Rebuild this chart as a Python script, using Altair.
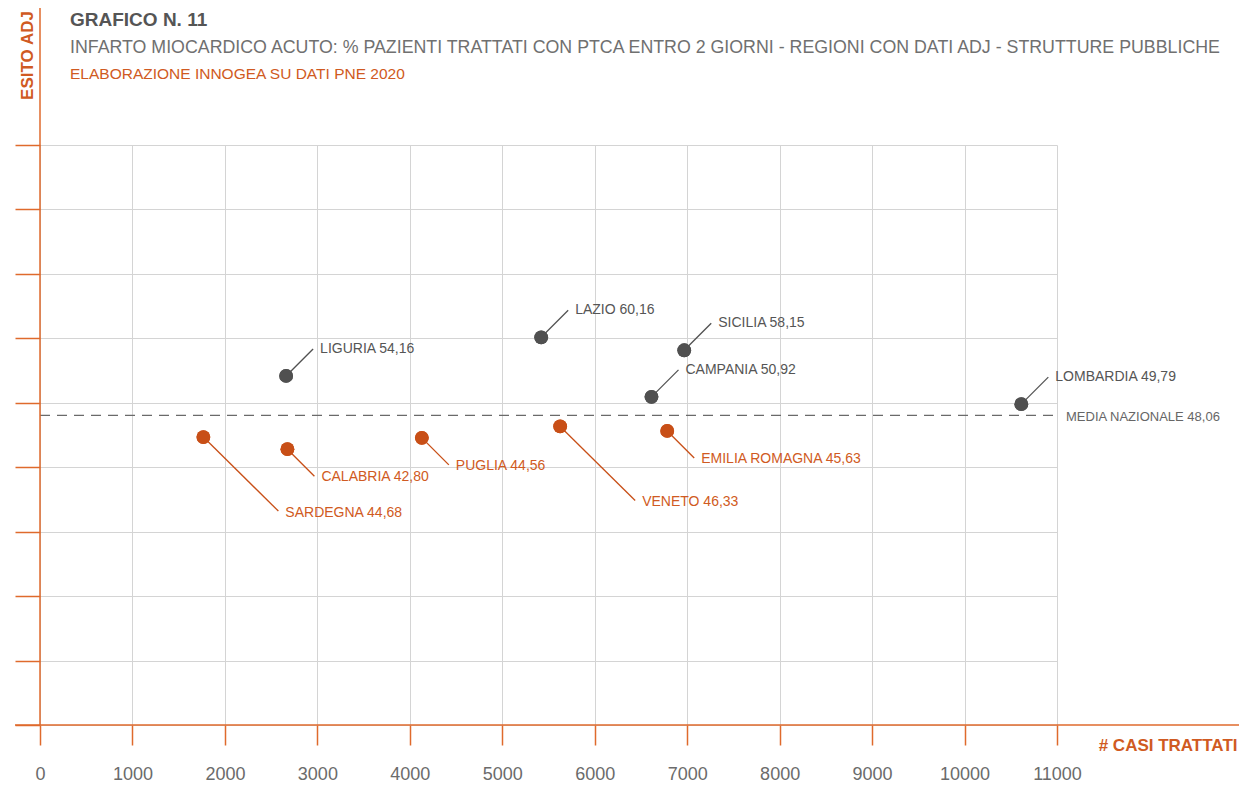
import altair as alt
import pandas as pd

# ---------------- data ----------------
regions = ["SARDEGNA", "CALABRIA", "LIGURIA", "PUGLIA", "LAZIO", "VENETO",
           "CAMPANIA", "EMILIA ROMAGNA", "SICILIA", "LOMBARDIA"]
cases = [1767, 2676, 2662, 4130, 5421, 5626, 6614, 6784, 6968, 10614]
esito = [44.68, 42.80, 54.16, 44.56, 60.16, 46.33, 50.92, 45.63, 58.15, 49.79]
media_nazionale = [48.06]
x_ticks = list(range(0, 12000, 1000))
y_ticks = list(range(0, 100, 10))
long_leader = ["SARDEGNA", "VENETO"]

title_text = ["GRAFICO N. 11"]
subtitle_text = ["INFARTO MIOCARDICO ACUTO: % PAZIENTI TRATTATI CON PTCA ENTRO 2 GIORNI - REGIONI CON DATI ADJ - STRUTTURE PUBBLICHE"]
source_text = ["ELABORAZIONE INNOGEA SU DATI PNE 2020"]

# ---------------- styles ----------------
SANS = "Liberation Sans"
ORANGE_AXIS = "#df6a2c"
ORANGE_PT = "#c84f17"
ORANGE_TXT = "#d05a22"
GRAY_PT = "#505050"
GRAY_TXT = "#555555"
GRID = "#d4d4d4"

def fmt(v):
    return f"{v:.2f}".replace(".", ",")

media = media_nazionale[0]
df = pd.DataFrame({"regione": regions, "casi": cases, "esito": esito})
df["label"] = [f"{r} {fmt(v)}" for r, v in zip(regions, esito)]
df["gruppo"] = ["sopra" if v > media else "sotto" for v in esito]
df["leader"] = ["long" if r in long_leader else "short" for r in regions]

df_media = pd.DataFrame({"esito": media_nazionale,
                         "label": [f"MEDIA NAZIONALE {fmt(media)}"]})

xscale = alt.Scale(domain=[0, 11000], nice=False, zero=False)
yscale = alt.Scale(domain=[0, 90], nice=False, zero=False)

x_axis = alt.Axis(values=x_ticks, grid=True, gridColor=GRID, gridWidth=1,
                  domain=False, ticks=True, tickColor=ORANGE_AXIS, tickSize=20,
                  tickWidth=1.5, labelColor="#6b6b6b", labelFont=SANS,
                  labelFontSize=18, labelPadding=20, labelFlush=False, format="d",
                  title="# CASI TRATTATI", titleFont=SANS, titleFontSize=17,
                  titleFontWeight="bold", titleColor=ORANGE_TXT, titleX=1197,
                  titleY=25, titleAlign="right", titleBaseline="alphabetic")
y_axis = alt.Axis(values=y_ticks, grid=True, gridColor=GRID, gridWidth=1,
                  domain=False, labels=False, ticks=True, tickColor=ORANGE_AXIS,
                  tickSize=25, tickWidth=1.5,
                  title="ESITO ADJ", titleFont=SANS, titleFontSize=17,
                  titleFontWeight="bold", titleColor=ORANGE_TXT, titleAngle=270,
                  titleX=-8, titleY=-90, titleAlign="center",
                  titleBaseline="alphabetic")

X = lambda: alt.X("casi:Q", scale=xscale, axis=x_axis)
Y = lambda: alt.Y("esito:Q", scale=yscale, axis=y_axis)

color = alt.Color("gruppo:N", scale=alt.Scale(domain=["sopra", "sotto"],
                                              range=[GRAY_PT, ORANGE_PT]),
                  legend=None)

base = alt.Chart(df)

# median dashed line
media_line = alt.Chart(df_media).mark_rule(
    color="#6a6a6a", strokeWidth=1.3, strokeDash=[10, 7]
).encode(x=alt.datum(0, scale=xscale, axis=x_axis), x2=alt.datum(11000),
         y=Y())

media_label = alt.Chart(df_media).mark_text(
    align="left", baseline="middle", dx=9, dy=2, font=SANS, fontSize=13,
    color="#666666"
).encode(x=alt.datum(11000, scale=xscale, axis=x_axis), y=Y(), text="label:N")

# leader lines
lead_up = base.transform_filter(alt.datum.gruppo == "sopra").mark_rule(
    color=GRAY_PT, strokeWidth=1.3, x2Offset=27, y2Offset=-27
).encode(x=X(), x2="casi:Q", y=Y(), y2="esito:Q")

lead_down = base.transform_filter(
    (alt.datum.gruppo == "sotto") & (alt.datum.leader == "short")
).mark_rule(color=ORANGE_PT, strokeWidth=1.3, x2Offset=27, y2Offset=27
).encode(x=X(), x2="casi:Q", y=Y(), y2="esito:Q")

lead_long = base.transform_filter(
    (alt.datum.gruppo == "sotto") & (alt.datum.leader == "long")
).mark_rule(color=ORANGE_PT, strokeWidth=1.3, x2Offset=75, y2Offset=74
).encode(x=X(), x2="casi:Q", y=Y(), y2="esito:Q")

# points
points = base.mark_circle(size=190, opacity=1).encode(
    x=X(), y=Y(), color=color
)

# labels
lab_up = base.transform_filter(alt.datum.gruppo == "sopra").mark_text(
    align="left", baseline="middle", dx=34, dy=-27, font=SANS, fontSize=14,
    color=GRAY_TXT
).encode(x=X(), y=Y(), text="label:N")

lab_down = base.transform_filter(
    (alt.datum.gruppo == "sotto") & (alt.datum.leader == "short")
).mark_text(align="left", baseline="middle", dx=34, dy=28, font=SANS,
            fontSize=14, color=ORANGE_TXT
).encode(x=X(), y=Y(), text="label:N")

lab_long = base.transform_filter(
    (alt.datum.gruppo == "sotto") & (alt.datum.leader == "long")
).mark_text(align="left", baseline="middle", dx=82, dy=76, font=SANS,
            fontSize=14, color=ORANGE_TXT
).encode(x=X(), y=Y(), text="label:N")

# axis lines (decorative, extend beyond plot)
one = pd.DataFrame({"k": [0]})
x_line = alt.Chart(one).mark_rule(color=ORANGE_AXIS, strokeWidth=1.5).encode(
    x=alt.value(-25), x2=alt.value(1205), y=alt.value(580))
y_line = alt.Chart(one).mark_rule(color=ORANGE_AXIS, strokeWidth=1.5).encode(
    x=alt.value(0), y=alt.value(-140), y2=alt.value(580))

# header text
h1 = alt.Chart(pd.DataFrame({"t": title_text})).mark_text(
    align="left", baseline="alphabetic", font=SANS, fontSize=19,
    fontWeight="bold", color="#555555"
).encode(x=alt.value(30), y=alt.value(-119), text="t:N")
h2 = alt.Chart(pd.DataFrame({"t": subtitle_text})).mark_text(
    align="left", baseline="alphabetic", font=SANS, fontSize=17.8,
    color="#707070"
).encode(x=alt.value(30), y=alt.value(-92), text="t:N")
h3 = alt.Chart(pd.DataFrame({"t": source_text})).mark_text(
    align="left", baseline="alphabetic", font=SANS, fontSize=15.5,
    color=ORANGE_TXT
).encode(x=alt.value(30), y=alt.value(-66), text="t:N")

chart = alt.layer(
    points, media_line, media_label, lead_up, lead_down, lead_long,
    points, lab_up, lab_down, lab_long, x_line, y_line, h1, h2, h3
).properties(
    width=1017, height=580,
    autosize=alt.AutoSizeParams(type="none"),
    padding={"left": 32, "top": 137, "right": 182, "bottom": 62},
    background="white"
).configure_view(stroke=None)

chart.save("out.html", embed_options={"renderer": "svg", "actions": False})
